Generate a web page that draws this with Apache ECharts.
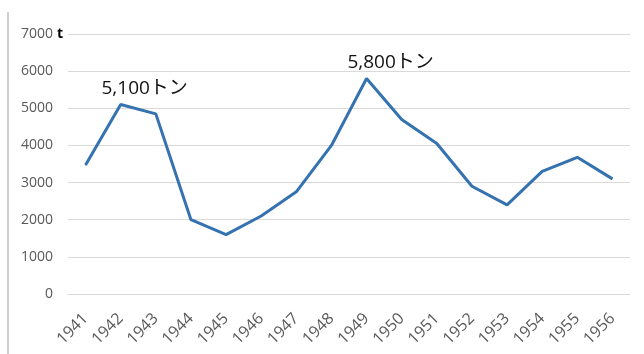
<!DOCTYPE html>
<html><head><meta charset="utf-8">
<script src="https://cdn.jsdelivr.net/npm/echarts@6/dist/echarts.min.js"></script>
<style>html,body{margin:0;padding:0;background:#fff}#c{width:644px;height:354px}</style>
</head><body><div id="c"></div>
<script>
const years = ['1941','1942','1943','1944','1945','1946','1947','1948','1949','1950','1951','1952','1953','1954','1955','1956'];
const catch_t = [3470, 5100, 4850, 2000, 1600, 2100, 2750, 4000, 5800, 4700, 4050, 2900, 2400, 3300, 3680, 3100];
const peakLabels = {'1942': '5,100トン', '1949': '5,800トン'};
const yTicks = [0, 1000, 2000, 3000, 4000, 5000, 6000, 7000];
const yUnit = 't';

const chart = echarts.init(document.getElementById('c'));
const font = '"Open Sans", "Noto Sans", sans-serif';
const yMax = yTicks[yTicks.length-1];
const gridLeft = 68;
chart.setOption({
  animation: false,
  grid: {left: gridLeft, right: 14, top: 34, bottom: 60},
  xAxis: {
    type: 'category', data: years, boundaryGap: true,
    axisLine: {show: true, lineStyle: {color: '#d9d9d9'}},
    axisTick: {show: false},
    axisLabel: {rotate: 45, color: '#595959', fontSize: 16, fontFamily: font, margin: 22, interval: 0}
  },
  yAxis: {
    type: 'value', min: yTicks[0], max: yMax, interval: 1000,
    axisLine: {show: false}, axisTick: {show: false},
    splitLine: {lineStyle: {color: '#d9d9d9', width: 1}},
    axisLabel: {color: '#595959', fontSize: 14, fontFamily: font, margin: 15, formatter: v => String(v)}
  },
  series: [{
    type: 'line', data: catch_t.map((v, i) => {
      const lab = peakLabels[years[i]];
      return lab ? {value: v, label: {show: true, formatter: lab}} : v;
    }),
    symbol: 'circle', symbolSize: 1, showSymbol: true,
    itemStyle: {color: '#3572b0'},
    lineStyle: {color: '#3572b0', width: 3},
    label: {show: false, position: 'top', distance: 6, offset: [24, 0], color: '#111', fontSize: 19,
      fontFamily: '"Open Sans", "Noto Sans CJK JP", sans-serif'}
  }]
});
const yTop = chart.convertToPixel({yAxisIndex: 0}, yMax);
chart.setOption({
  graphic: [
    {type:'line', shape:{x1:8,y1:12,x2:8,y2:354}, style:{stroke:'#cfcfcf', lineWidth:2}},
    {type:'text', x: gridLeft - 5, y: yTop, style: {text: yUnit, align: 'right', verticalAlign: 'middle',
      fill: '#000', font: 'bold 14px ' + font}}
  ]
});
</script></body></html>
